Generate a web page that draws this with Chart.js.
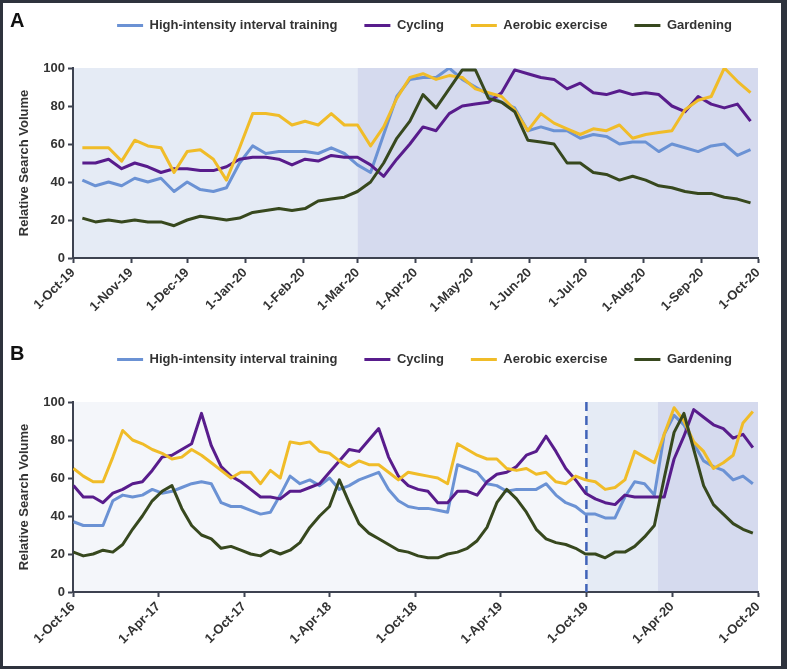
<!DOCTYPE html>
<html><head><meta charset="utf-8">
<script src="https://cdn.jsdelivr.net/npm/chart.js@4.4.1/dist/chart.umd.min.js"></script>
<style>
html,body{margin:0;padding:0;background:#fff;}
#wrap{position:relative;width:787px;height:669px;overflow:hidden;background:#fff;}
#cA{position:absolute;left:0;top:0;}
#cB{position:absolute;left:0;top:325px;}
.lbl{position:absolute;left:10px;font:bold 20px "Liberation Sans",Arial,sans-serif;line-height:20px;color:#111;}
#frame{position:absolute;left:0;top:0;width:787px;height:669px;box-sizing:border-box;border:3px solid #2e333d;border-right-width:6px;pointer-events:none;}
</style></head><body>
<div id="wrap">
<canvas id="cA" width="787" height="325"></canvas>
<canvas id="cB" width="787" height="344"></canvas>
<div class="lbl" style="top:10px">A</div>
<div class="lbl" style="top:343px">B</div>
<div id="frame"></div>
</div>
<script>
// ---------- series ----------
const seriesNames = ['High-intensity interval training', 'Cycling', 'Aerobic exercise', 'Gardening'];

// ---------- panel A (weekly) ----------
const weeksA = ['2019-10-06','2019-10-13','2019-10-20','2019-10-27','2019-11-03','2019-11-10','2019-11-17','2019-11-24',
'2019-12-01','2019-12-08','2019-12-15','2019-12-22','2019-12-29','2020-01-05','2020-01-12','2020-01-19','2020-01-26',
'2020-02-02','2020-02-09','2020-02-16','2020-02-23','2020-03-01','2020-03-08','2020-03-15','2020-03-22','2020-03-29',
'2020-04-05','2020-04-12','2020-04-19','2020-04-26','2020-05-03','2020-05-10','2020-05-17','2020-05-24','2020-05-31',
'2020-06-07','2020-06-14','2020-06-21','2020-06-28','2020-07-05','2020-07-12','2020-07-19','2020-07-26',
'2020-08-02','2020-08-09','2020-08-16','2020-08-23','2020-08-30','2020-09-06','2020-09-13','2020-09-20','2020-09-27'];
const hiitA = [41,38,40,38,42,40,42,35,40,36,35,37,50,59,55,56,56,56,55,58,55,49,45,65,85,94,95,95,100,94,90,86,82,79,67,69,67,67,63,65,64,60,61,61,56,60,58,56,59,60,54,57];
const cyclingA = [50,50,52,47,50,48,45,47,47,46,46,48,52,53,53,52,49,52,51,54,53,53,49,43,52,60,69,67,76,80,81,82,87,99,97,95,94,89,92,87,86,88,86,87,86,80,77,85,81,79,81,72];
const aerobicA = [58,58,58,51,62,59,58,45,56,57,52,41,58,76,76,75,70,72,70,76,70,70,59,69,84,95,97,94,96,95,89,87,85,78,67,76,71,68,65,68,67,70,63,65,66,67,78,83,85,100,93,87];
const gardeningA = [21,19,20,19,20,19,19,17,20,22,21,20,21,24,25,26,25,26,30,31,32,35,40,50,63,72,86,79,89,99,99,84,82,77,62,61,60,50,50,45,44,41,43,41,38,37,35,34,34,32,31,29];
const tickDatesA = ['2019-10-01','2019-11-01','2019-12-01','2020-01-01','2020-02-01','2020-03-01','2020-04-01','2020-05-01','2020-06-01','2020-07-01','2020-08-01','2020-09-01','2020-10-01'];
const tickLabelsA = ['1-Oct-19','1-Nov-19','1-Dec-19','1-Jan-20','1-Feb-20','1-Mar-20','1-Apr-20','1-May-20','1-Jun-20','1-Jul-20','1-Aug-20','1-Sep-20','1-Oct-20'];
const shadeBoundsA = ['2019-10-01','2020-03-01','2020-10-01'];

// ---------- panel B (every third week) ----------
const datesB = ['2016-10-02','2016-10-23','2016-11-13','2016-12-04','2016-12-25','2017-01-15','2017-02-05','2017-02-26',
'2017-03-19','2017-04-09','2017-04-30','2017-05-21','2017-06-11','2017-07-02','2017-07-23','2017-08-13','2017-09-03',
'2017-09-24','2017-10-15','2017-11-05','2017-11-26','2017-12-17','2018-01-07','2018-01-28','2018-02-18','2018-03-11',
'2018-04-01','2018-04-22','2018-05-13','2018-06-03','2018-06-24','2018-07-15','2018-08-05','2018-08-26','2018-09-16',
'2018-10-07','2018-10-28','2018-11-18','2018-12-09','2018-12-30','2019-01-20','2019-02-10','2019-03-03','2019-03-24',
'2019-04-14','2019-05-05','2019-05-26','2019-06-16','2019-07-07','2019-07-28','2019-08-18','2019-09-08','2019-09-29',
'2019-10-20','2019-11-10','2019-12-01','2019-12-22','2020-01-12','2020-02-02','2020-02-23','2020-03-15','2020-04-05',
'2020-04-26','2020-05-17','2020-06-07','2020-06-28','2020-07-19','2020-08-09','2020-08-30','2020-09-20'];
const hiitB = [37,35,35,35,48,51,50,51,54,52,53,55,57,58,57,47,45,45,43,41,42,51,61,57,59,56,60,54,56,59,61,63,54,48,45,44,44,43,42,67,65,63,57,56,53,54,54,54,57,51,47,45,41,41,39,39,50,58,57,51,83,93,88,78,69,66,64,59,61,57];
const cyclingB = [56,50,50,47,52,54,57,58,64,71,72,75,78,94,77,66,61,58,54,50,50,49,53,53,55,57,63,69,75,74,80,86,71,61,56,54,53,47,47,53,53,51,58,62,63,66,72,74,82,74,65,59,52,49,47,46,51,50,50,50,50,70,82,96,92,88,86,81,83,76];
const aerobicB = [65,61,58,58,71,85,80,78,75,73,70,71,75,72,68,64,60,63,63,57,64,60,79,78,79,74,73,69,66,69,67,67,63,59,63,62,61,60,57,78,75,72,70,70,65,64,65,62,63,58,57,61,59,58,54,55,59,74,71,68,83,97,90,79,74,65,68,72,89,95];
const gardeningB = [21,19,20,22,21,25,33,40,48,53,56,44,35,30,28,23,24,22,20,19,22,20,22,26,34,40,45,59,47,36,31,28,25,22,21,19,18,18,20,21,23,27,34,47,54,49,42,33,28,26,25,23,20,20,18,21,21,24,29,35,60,84,94,75,56,46,41,36,33,31];
const tickDatesB = ['2016-10-01','2017-04-01','2017-10-01','2018-04-01','2018-10-01','2019-04-01','2019-10-01','2020-04-01','2020-10-01'];
const tickLabelsB = ['1-Oct-16','1-Apr-17','1-Oct-17','1-Apr-18','1-Oct-18','1-Apr-19','1-Oct-19','1-Apr-20','1-Oct-20'];
const shadeBoundsB = ['2016-10-01','2019-10-01','2020-03-01','2020-10-01'];
const markerDateB = '2019-10-01';

// ---------- styling ----------
const seriesColors = ['#6b92d4', '#581c8c', '#f0bc28', '#37481e'];
const axisColor = '#3d4250';
const textColor = '#333333';
const FONT = '"Liberation Sans", Arial, sans-serif';
Chart.defaults.font.family = FONT;
Chart.defaults.font.weight = 'bold';
Chart.defaults.font.size = 13;
Chart.defaults.color = textColor;

const dayOf = (origin, s) => (Date.parse(s + 'T00:00:00Z') - Date.parse(origin + 'T00:00:00Z')) / 864e5;

const bandsPlugin = {
  id: 'bands',
  beforeDraw(chart, args, opts) {
    const {ctx, chartArea: a, scales: {x}} = chart;
    ctx.save();
    for (let i = 0; i < opts.bounds.length - 1; i++) {
      const x0 = x.getPixelForValue(opts.bounds[i]);
      const x1 = x.getPixelForValue(opts.bounds[i + 1]);
      ctx.fillStyle = opts.colors[i];
      ctx.fillRect(x0, a.top, x1 - x0, a.bottom - a.top);
    }
    ctx.restore();
  },
  beforeDatasetsDraw(chart, args, opts) {
    if (opts.marker == null) return;
    const {ctx, chartArea: a, scales: {x}} = chart;
    const px = x.getPixelForValue(opts.marker);
    ctx.save();
    ctx.strokeStyle = '#4063b8';
    ctx.lineWidth = 2.5;
    ctx.setLineDash([9, 5]);
    ctx.beginPath();
    ctx.moveTo(px, a.top);
    ctx.lineTo(px, a.bottom);
    ctx.stroke();
    ctx.restore();
  }
};
const legendShift = {
  id: 'legendShift',
  afterLayout(chart, args, opts) {
    if (chart.legend) { chart.legend.left += opts.dx; chart.legend.right += opts.dx; }
  }
};

function makeChart(id, cfg) {
  const origin = cfg.tickDates[0];
  const toX = s => dayOf(origin, s);
  const tickX = cfg.tickDates.map(toX);
  const datasets = cfg.values.map((vals, k) => ({
    label: seriesNames[k],
    data: vals.map((v, i) => ({x: toX(cfg.dates[i]), y: v})),
    borderColor: seriesColors[k],
    backgroundColor: seriesColors[k],
    borderWidth: 3,
    pointRadius: 0,
    tension: 0,
    fill: false,
    borderJoinStyle: 'round',
    order: 4 - k
  }));
  return new Chart(document.getElementById(id), {
    type: 'line',
    data: {datasets},
    plugins: [bandsPlugin, legendShift],
    options: {
      responsive: false,
      animation: false,
      events: [],
      layout: {padding: {top: cfg.padTop, right: 29, left: 0, bottom: 0}},
      plugins: {
        legend: {
          position: 'top', fullSize: false, align: 'center',
          labels: {
            usePointStyle: true, pointStyle: 'line', pointStyleWidth: 26,
            padding: 27, color: textColor, font: {size: 13, weight: 'bold'},
            sort: (a, b) => a.datasetIndex - b.datasetIndex
          }
        },
        title: {display: true, text: '', weight: 500, padding: {top: 7, bottom: 7}, font: {size: 10}},
        tooltip: {enabled: false},
        bands: {bounds: cfg.shade.map(toX), colors: cfg.shadeColors, marker: cfg.marker ? toX(cfg.marker) : null},
        legendShift: {dx: 9}
      },
      scales: {
        x: {
          type: 'linear', min: tickX[0], max: tickX[tickX.length - 1], offset: false,
          afterBuildTicks: s => { s.ticks = tickX.map(v => ({value: v})); },
          afterFit: s => { s.height = cfg.xh; },
          ticks: {autoSkip: false, maxRotation: 45, minRotation: 45, padding: 2, color: textColor,
                  font: {size: 13, weight: 'bold'}, callback: (v, i) => cfg.tickLabels[i]},
          grid: {drawOnChartArea: false, drawTicks: true, tickLength: 5, tickColor: axisColor, tickWidth: 2},
          border: {color: axisColor, width: 2}
        },
        y: {
          min: 0, max: 100,
          afterFit: s => { s.width = 73; },
          ticks: {stepSize: 20, padding: 3, color: textColor, font: {size: 13, weight: 'bold'}},
          grid: {drawOnChartArea: false, drawTicks: true, tickLength: 5, tickColor: axisColor, tickWidth: 2},
          border: {color: axisColor, width: 2},
          title: {display: true, text: 'Relative Search Volume', color: textColor,
                  font: {size: 13, weight: 'bold'}, padding: {top: 17, bottom: 0}}
        }
      }
    }
  });
}

makeChart('cA', {
  dates: weeksA, values: [hiitA, cyclingA, aerobicA, gardeningA],
  tickDates: tickDatesA, tickLabels: tickLabelsA,
  shade: shadeBoundsA, shadeColors: ['#e5ebf5', '#d5daee'],
  padTop: -8, xh: 67
});
makeChart('cB', {
  dates: datesB, values: [hiitB, cyclingB, aerobicB, gardeningB],
  tickDates: tickDatesB, tickLabels: tickLabelsB,
  shade: shadeBoundsB, shadeColors: ['#f4f6fa', '#e5ebf5', '#d5daee'], marker: markerDateB,
  padTop: 1, xh: 77
});
</script>
</body></html>
